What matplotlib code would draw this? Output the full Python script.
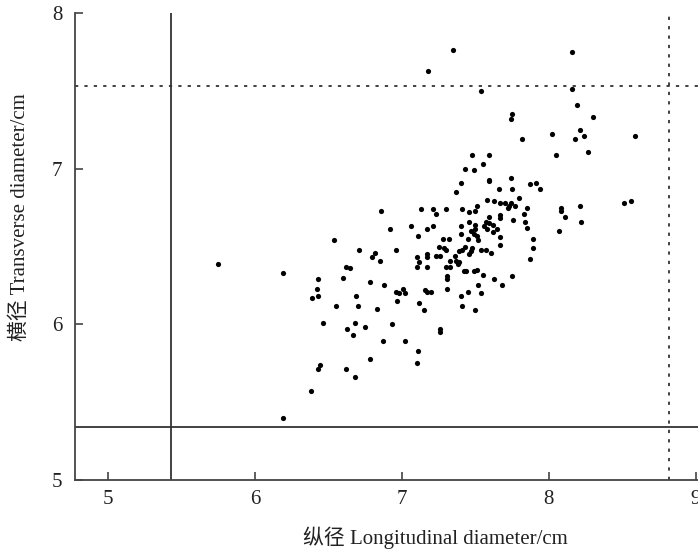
# Scatter of longitudinal vs transverse diameter with reference lines
import matplotlib.pyplot as plt
import numpy as np

plt.rcParams['font.family'] = ['Liberation Serif', 'Noto Sans CJK SC']

# Longitudinal diameter / cm
x_long = [
    5.75, 6.19, 6.54, 6.62, 6.65, 6.60, 6.43, 6.42, 6.43, 6.39,
    6.55, 6.46, 6.63, 6.44, 6.43, 6.62, 6.38, 6.19, 6.67, 6.87,
    7.02, 7.26, 7.26, 7.11, 6.78, 7.10, 6.68, 7.48, 7.59, 7.55,
    7.43, 7.49, 7.59, 7.59, 7.40, 7.66, 7.37, 7.58, 7.63, 7.67,
    7.70, 7.73, 7.72, 7.51, 7.46, 7.50, 7.13, 7.21, 7.23, 7.30,
    7.41, 6.86, 7.59, 7.67, 7.67, 7.46, 7.57, 7.59, 7.62, 7.50,
    7.40, 7.06, 7.21, 7.17, 6.92, 7.58, 7.62, 7.65, 7.47, 7.50,
    7.49, 7.51, 7.40, 7.11, 7.45, 7.28, 7.32, 7.52, 7.67, 7.25,
    7.29, 7.30, 7.43, 7.48, 7.47, 7.46, 7.39, 7.41, 7.54, 7.57,
    7.61, 7.67, 6.71, 6.82, 6.80, 6.96, 7.23, 7.26, 7.36, 7.17,
    7.17, 7.10, 7.37, 7.39, 7.38, 7.33, 6.85, 7.12, 7.10, 7.17,
    7.30, 7.33, 7.42, 7.44, 7.49, 7.51, 7.55, 7.31, 7.31, 7.63,
    6.78, 6.88, 7.52, 7.68, 7.31, 6.96, 6.98, 7.01, 7.02, 7.16,
    7.17, 7.20, 7.45, 7.54, 6.69, 7.40, 6.97, 6.70, 7.12, 7.41,
    6.83, 7.15, 7.50, 6.68, 6.75, 6.93, 7.74, 7.75, 7.87, 7.91,
    7.94, 7.80, 7.74, 7.77, 7.85, 7.76, 7.83, 7.84, 7.85, 7.89,
    7.89, 7.87, 7.75, 8.08, 8.08, 8.11, 8.21, 8.22, 8.07, 8.05,
    8.27, 8.16, 7.54, 8.16, 8.19, 8.30, 7.75, 7.74, 8.02, 8.21,
    8.24, 8.18, 7.82, 8.59, 8.51, 8.56, 7.35, 7.18, 7.56,
]

# Transverse diameter / cm
y_trans = [
    6.39, 6.33, 6.54, 6.37, 6.36, 6.30, 6.29, 6.23, 6.18, 6.17,
    6.12, 6.01, 5.97, 5.74, 5.71, 5.71, 5.57, 5.40, 5.93, 5.89,
    5.89, 5.97, 5.95, 5.83, 5.78, 5.75, 5.66, 7.09, 7.09, 7.03,
    7.00, 6.99, 6.93, 6.92, 6.91, 6.87, 6.85, 6.80, 6.79, 6.78,
    6.78, 6.76, 6.75, 6.76, 6.72, 6.73, 6.74, 6.74, 6.71, 6.74,
    6.74, 6.73, 6.69, 6.70, 6.68, 6.66, 6.66, 6.65, 6.64, 6.64,
    6.63, 6.63, 6.63, 6.61, 6.61, 6.61, 6.59, 6.61, 6.60, 6.61,
    6.58, 6.57, 6.58, 6.57, 6.55, 6.55, 6.55, 6.54, 6.56, 6.50,
    6.49, 6.48, 6.50, 6.49, 6.47, 6.45, 6.47, 6.48, 6.48, 6.48,
    6.46, 6.51, 6.48, 6.46, 6.43, 6.48, 6.44, 6.44, 6.44, 6.45,
    6.43, 6.43, 6.41, 6.40, 6.39, 6.41, 6.41, 6.40, 6.37, 6.37,
    6.37, 6.37, 6.34, 6.34, 6.34, 6.35, 6.32, 6.31, 6.29, 6.29,
    6.27, 6.25, 6.25, 6.25, 6.23, 6.21, 6.20, 6.23, 6.20, 6.22,
    6.21, 6.21, 6.21, 6.20, 6.18, 6.18, 6.15, 6.12, 6.14, 6.12,
    6.10, 6.09, 6.09, 6.01, 5.98, 6.00, 6.94, 6.87, 6.90, 6.91,
    6.87, 6.81, 6.78, 6.76, 6.75, 6.67, 6.71, 6.66, 6.62, 6.55,
    6.49, 6.42, 6.31, 6.75, 6.73, 6.69, 6.76, 6.66, 6.60, 7.09,
    7.11, 7.75, 7.50, 7.51, 7.41, 7.33, 7.35, 7.32, 7.22, 7.25,
    7.21, 7.19, 7.19, 7.21, 6.78, 6.79, 7.76, 7.63, 6.63,
]

# Reference lines
x_low, x_high = 5.43, 8.82
y_low, y_high = 5.34, 7.53

fig = plt.figure(figsize=(6.98, 5.49), dpi=100)
ax = fig.add_axes([75 / 698, 69 / 549, 623 / 698, 467 / 549])

ax.scatter(x_long, y_trans, s=14, color='black', linewidths=0, zorder=3)

line_col = '#333333'
ax.axvline(x_low, color=line_col, lw=1.3)
ax.axhline(y_low, color=line_col, lw=1.3)
ax.axvline(x_high, color=line_col, lw=1.3, linestyle=(0, (1.8, 3.4)))
ax.axhline(y_high, color=line_col, lw=1.3, linestyle=(0, (1.8, 3.4)))

ax.set_xlim(4.775, 9.016)
ax.set_ylim(5, 8)
ax.set_xticks([5, 6, 7, 8, 9])
ax.set_yticks([5, 6, 7, 8])

for side in ['top', 'right']:
    ax.spines[side].set_visible(False)
for side in ['left', 'bottom']:
    ax.spines[side].set_color('#444444')
    ax.spines[side].set_linewidth(1.3)

ax.tick_params(direction='in', length=5.5, width=1.2, color='#444444',
               labelsize=15, labelcolor='#222222')
ax.tick_params(axis='x', pad=7)
ax.tick_params(axis='y', pad=9)

ax.set_xlabel('纵径 Longitudinal diameter/cm', fontsize=15, color='#222222')
ax.set_ylabel('横径 Transverse diameter/cm', fontsize=15, color='#222222')
ax.xaxis.set_label_coords(0.578, -0.10)
ax.yaxis.set_label_coords(-0.073, 0.563)

fig.savefig('out.png', dpi=100)
